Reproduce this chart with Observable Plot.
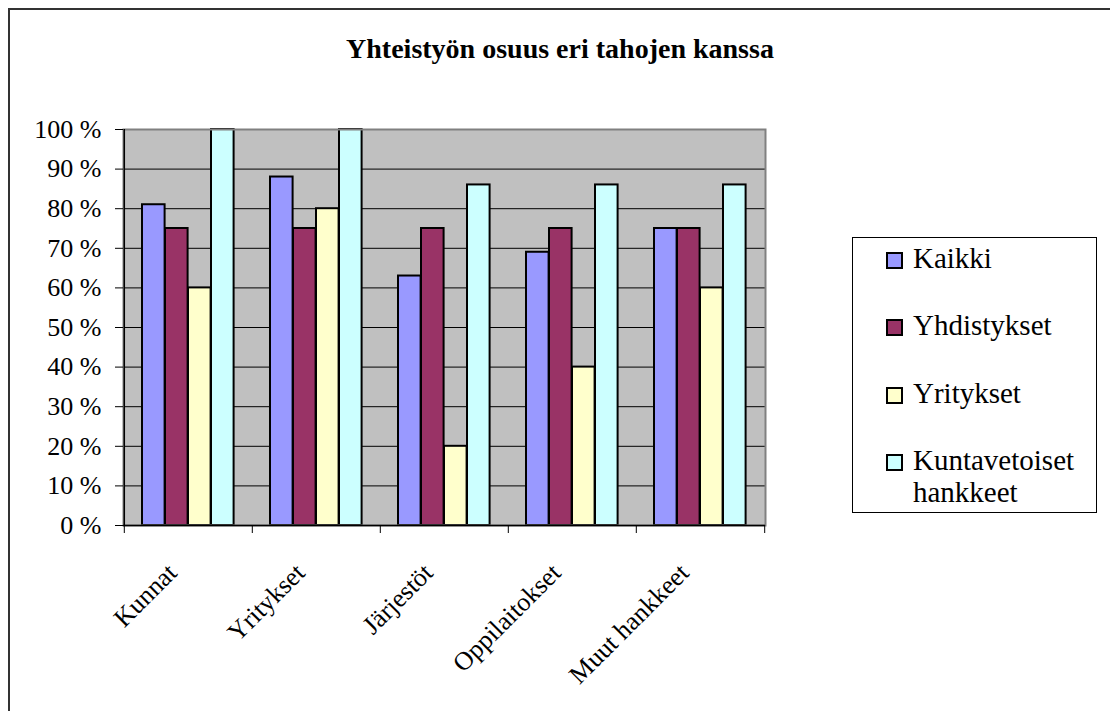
<!DOCTYPE html>
<html>
<head>
<meta charset="utf-8">
<script src="https://cdn.jsdelivr.net/npm/d3@7"></script>
<script src="https://cdn.jsdelivr.net/npm/@observablehq/plot@0.6"></script>
<style>
  html, body { margin: 0; padding: 0; background: #fff; }
  #wrap { position: relative; width: 1110px; height: 711px; overflow: hidden; font-family: "Liberation Serif", "Times New Roman", serif; color: #000; }
  #border { position: absolute; left: 8px; top: 8px; width: 1200px; height: 800px; border-left: 2px solid #333; border-top: 2px solid #333; box-sizing: border-box; }
  #chart { position: absolute; left: 0; top: 0; }
  #title { position: absolute; left: 0; top: 35px; width: 1120px; text-align: center; font-weight: bold; font-size: 28px; line-height: 28px; white-space: nowrap; }
  #legend { position: absolute; left: 852px; top: 237px; width: 245px; height: 276px; border: 1px solid #000; box-sizing: border-box; background: #fff; }
  .item { position: absolute; left: 0; width: 243px; }
  .sw { position: absolute; left: 33px; top: 10px; width: 17px; height: 17px; border: 2px solid #000; box-sizing: border-box; }
  .lbl { position: absolute; left: 60px; top: 0; width: 182px; font-size: 29px; line-height: 32px; }
</style>
</head>
<body>
<div id="wrap">
  <div id="border"></div>
  <div id="chart"></div>
  <div id="title">Yhteistyön osuus eri tahojen kanssa</div>
  <div id="legend"></div>
</div>
<script>
const categories = ["Kunnat", "Yritykset", "Järjestöt", "Oppilaitokset", "Muut hankkeet"];
const seriesNames = ["Kaikki", "Yhdistykset", "Yritykset", "Kuntavetoiset hankkeet"];
const kaikki = [81, 88, 63, 69, 75];
const yhdistykset = [75, 75, 75, 75, 75];
const yritykset = [60, 80, 20, 40, 60];
const kuntavetoiset = [100, 100, 86, 86, 86];
const seriesColors = ["#9999ff", "#993366", "#ffffcc", "#ccffff"];
const yTicks = [0, 10, 20, 30, 40, 50, 60, 70, 80, 90, 100];

const seriesValues = [kaikki, yhdistykset, yritykset, kuntavetoiset];
const data = [];
categories.forEach((c, ci) => {
  seriesNames.forEach((s, si) => {
    data.push({cat: c, series: s, value: seriesValues[si][ci]});
  });
});

const W = 1110, H = 711, ML = 123, MR = 345, MT = 129, MB = 186;
const bw = (W - ML - MR) / categories.length;
const groupPad = 18, barW = 23;

const barMarks = seriesNames.map((s, i) =>
  Plot.barY(data.filter(d => d.series === s), {
    x: "cat", y: "value", fill: "series",
    stroke: "#000", strokeWidth: 2,
    insetLeft: groupPad + barW * i,
    insetRight: bw - groupPad - barW * (i + 1)
  })
);

const chart = Plot.plot({
  width: W, height: H,
  marginLeft: ML, marginRight: MR, marginTop: MT, marginBottom: MB,
  style: {fontFamily: "'Liberation Serif', 'Times New Roman', serif", fontSize: "26px", color: "#000", background: "transparent", overflow: "visible"},
  x: {domain: categories, padding: 0, label: null},
  y: {domain: [0, 100], label: null},
  color: {domain: seriesNames, range: seriesColors},
  marks: [
    Plot.frame({fill: "#c0c0c0"}),
    Plot.ruleY(yTicks.slice(1, -1), {stroke: "#000", strokeWidth: 1}),
    ...barMarks,
    Plot.frame({stroke: "#808080", strokeWidth: 2}),
    Plot.ruleY([0], {stroke: "#000", strokeWidth: 1.5}),
    Plot.ruleX([categories[0]], {x: d => d, dx: -bw / 2, stroke: "#000", strokeWidth: 1.5}),
    Plot.axisY({ticks: yTicks, tickSize: 8, tickPadding: 14, tickFormat: d => d + " %", fontSize: 26, stroke: "#000", strokeOpacity: 1}),
    Plot.axisX({ticks: categories, tickSize: 8, tickFormat: () => "", dx: -bw / 2, stroke: "#000", strokeOpacity: 1}),
    Plot.axisX({ticks: [categories[categories.length - 1]], tickSize: 8, tickFormat: () => "", dx: bw / 2, stroke: "#000", strokeOpacity: 1}),
    Plot.text(categories, {x: d => d, frameAnchor: "bottom", rotate: -45, textAnchor: "end", lineAnchor: "middle", dx: -16, dy: 43, fontSize: 26, fill: "#000"})
  ]
});
document.getElementById("chart").appendChild(chart);

const legend = document.getElementById("legend");
seriesNames.forEach((s, i) => {
  const item = document.createElement("div");
  item.className = "item";
  item.style.top = (3.6 + i * 67.6) + "px";
  const sw = document.createElement("div");
  sw.className = "sw";
  sw.style.background = seriesColors[i];
  const lbl = document.createElement("div");
  lbl.className = "lbl";
  lbl.textContent = s;
  item.appendChild(sw);
  item.appendChild(lbl);
  legend.appendChild(item);
});
</script>
</body>
</html>
